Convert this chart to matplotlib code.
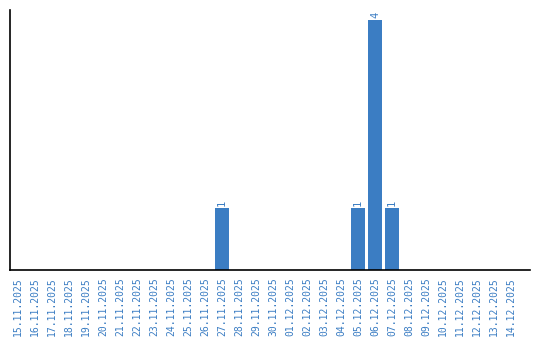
import matplotlib
matplotlib.use("Agg")
import matplotlib.pyplot as plt

dates = ["15.11.2025", "16.11.2025", "17.11.2025", "18.11.2025", "19.11.2025",
         "20.11.2025", "21.11.2025", "22.11.2025", "23.11.2025", "24.11.2025",
         "25.11.2025", "26.11.2025", "27.11.2025", "28.11.2025", "29.11.2025",
         "30.11.2025", "01.12.2025", "02.12.2025", "03.12.2025", "04.12.2025",
         "05.12.2025", "06.12.2025", "07.12.2025", "08.12.2025", "09.12.2025",
         "10.12.2025", "11.12.2025", "12.12.2025", "13.12.2025", "14.12.2025"]
counts = [0, 0, 0, 0, 0, 0, 0, 0, 0, 0, 0, 0, 1, 0, 0,
          0, 0, 0, 0, 0, 1, 4, 1, 0, 0, 0, 0, 0, 0, 0]

blue = "#3b7dc3"
font = "DejaVu Sans Mono"
fig = plt.figure(figsize=(5.4, 3.4), dpi=100)
ax = fig.add_axes([10/540, 70/340, 520/540, 260/340])
x = list(range(len(dates)))
ax.bar(x, counts, width=0.82, color=blue)
for xi, v in zip(x, counts):
    if v > 0:
        ax.text(xi, v + 0.03, str(v), rotation=90, ha="center", va="bottom",
                color=blue, fontsize=7.5, family=font)
ax.set_xlim(-0.47, 30.12)
ax.set_ylim(0, 4.16)
ax.set_xticks(x)
ax.set_xticklabels(dates, rotation=90, color=blue, fontsize=7, family=font)
ax.tick_params(axis="x", length=0, pad=5)
ax.set_yticks([])
for s in ["top", "right"]:
    ax.spines[s].set_visible(False)
for s in ["left", "bottom"]:
    ax.spines[s].set_linewidth(1.2)
fig.savefig("out.png", dpi=100)
